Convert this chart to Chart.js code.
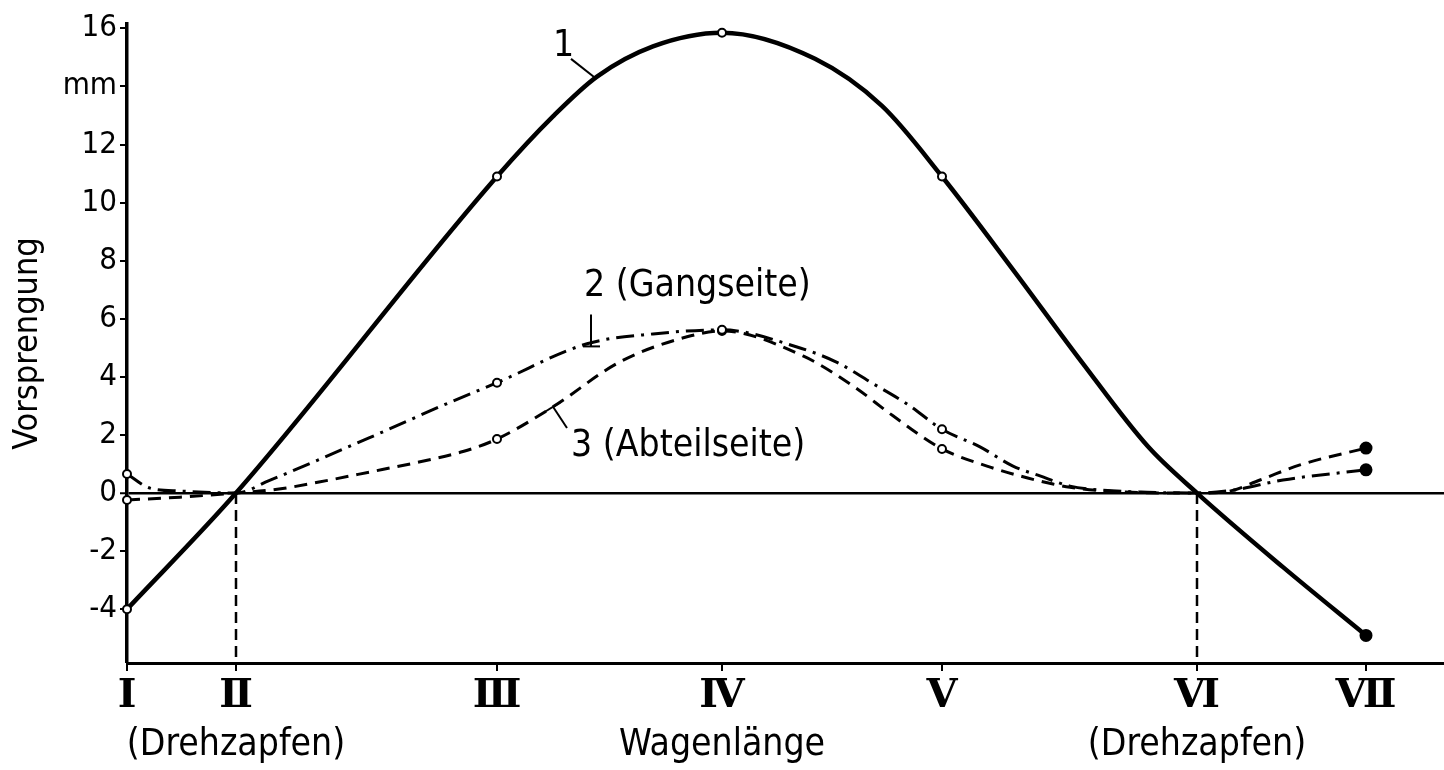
<!DOCTYPE html>
<html>
<head>
<meta charset="utf-8">
<script src="https://cdn.jsdelivr.net/npm/chart.js@4/dist/chart.umd.min.js"></script>
<style>
  html, body { margin: 0; padding: 0; background: #fff; overflow: hidden; }
  #wrap { width: 1444px; height: 770px; position: relative; }
</style>
</head>
<body>
<div id="wrap"><canvas id="chart"></canvas></div>
<script>
// stations along the coach (x in drawing units from station I)
const stationLabels = ['Ⅰ', 'Ⅱ', 'Ⅲ', 'Ⅳ', 'Ⅴ', 'Ⅵ', 'Ⅶ'];
const stationPos = [0, 109, 370, 595, 815, 1070, 1239];
const pivotStations = [1, 5]; // Drehzapfen

// measured values at the stations (mm)
const curve1 = [-4.0, 0, 10.9, 15.85, 10.9, 0, -4.9];
const curve2 = [0.66, 0, 3.8, 5.62, 2.2, 0, 0.8];
const curve3 = [-0.24, 0, 1.86, 5.58, 1.52, 0, 1.55];

const trace1 = [[426, 12.97], [470, 14.34], [526, 15.38], [688, 14.95], [755, 13.33],
                [888, 7.6], [955, 4.5], [1021, 1.6], [1156, -2.55]];
const trace2 = [[23, 0.17], [53, 0.07], [142, 0.43], [242, 1.9], [326, 3.17],
                [460, 5.14], [526, 5.48], [670, 5.03], [710, 4.5], [743, 3.83], [780, 3.07],
                [853, 1.59], [886, 0.93], [913, 0.59], [943, 0.24], [976, 0.1], [1020, 0.03],
                [1106, 0.1], [1156, 0.45]];
const trace3 = [[53, -0.14], [152, 0.14], [192, 0.38], [242, 0.72], [292, 1.07], [336, 1.43],
                [426, 2.97], [493, 4.52], [560, 5.38], [676, 4.72], [726, 3.69], [766, 2.66],
                [860, 0.93], [893, 0.59], [926, 0.31], [943, 0.2], [990, 0.05],
                [1100, 0.05], [1133, 0.45], [1173, 0.97]];

const yTicks = [-4, -2, 0, 2, 4, 6, 8, 10, 12, 14, 16];
const yUnitTick = 14; // shown as "mm"
const xMax = 1317;
const yMin = -5.85;
const yMax = 16.15;

const FONT = "'DejaVu Sans Condensed', 'Liberation Sans Narrow', 'DejaVu Sans', sans-serif";
const stationMarks = ['open', null, 'open', 'open', 'open', null, 'filled'];

const buildSeries = (values, trace) => {
    const pts = values.map((v, i) => ({ x: stationPos[i], y: v, mark: stationMarks[i] }));
    trace.forEach(([x, y]) => pts.push({ x, y, mark: null }));
    return pts.sort((a, b) => a.x - b.x);
};

const markRadius = ctx => {
    const m = ctx.raw && ctx.raw.mark;
    return m === 'filled' ? 5.5 : m === 'open' ? 4 : 0;
};
const markFill = ctx => (ctx.raw && ctx.raw.mark === 'filled') ? '#000' : '#fff';

const curveStyle = (dash, width) => ({
    borderColor: '#000',
    borderWidth: width,
    borderDash: dash,
    pointRadius: markRadius,
    pointBackgroundColor: markFill,
    pointBorderColor: '#000',
    pointBorderWidth: 2,
    cubicInterpolationMode: 'monotone',
    fill: false,
    clip: false,
});

const pivotLines = pivotStations.map(i => ({
    data: [{ x: stationPos[i], y: 0 }, { x: stationPos[i], y: yMin }],
    borderColor: '#000',
    borderWidth: 2.5,
    borderDash: [11, 6],
    pointRadius: 0,
    tension: 0,
}));

// labels written on the drawing, positioned in data units
const notes = [
    { text: '1', x: 426, y: 15.05, leader: [[444, 14.95], [468, 14.3]] },
    { text: '2 (Gangseite)', x: 457, y: 6.8, leader: [[464, 6.15], [464, 5.05]], foot: [[456, 5.05], [473, 5.05]] },
    { text: '3 (Abteilseite)', x: 444, y: 1.28, leader: [[440, 2.24], [426, 2.97]], foot: [[418, 2.8], [434, 3.14]] },
];

const drawingText = {
    id: 'drawingText',
    afterDatasetsDraw(chart) {
        const { ctx, scales: { x, y }, chartArea } = chart;
        ctx.save();
        ctx.fillStyle = '#000';
        ctx.strokeStyle = '#000';
        ctx.lineWidth = 2;
        ctx.font = `37px ${FONT}`;
        ctx.textBaseline = 'alphabetic';
        ctx.textAlign = 'left';
        notes.forEach(n => {
            ctx.fillText(n.text, x.getPixelForValue(n.x), y.getPixelForValue(n.y));
            [n.leader, n.foot].forEach(seg => {
                if (!seg) return;
                ctx.beginPath();
                ctx.moveTo(x.getPixelForValue(seg[0][0]), y.getPixelForValue(seg[0][1]));
                ctx.lineTo(x.getPixelForValue(seg[1][0]), y.getPixelForValue(seg[1][1]));
                ctx.stroke();
            });
        });
        // text under the axis
        ctx.textAlign = 'center';
        const baseY = chartArea.bottom + 92;
        pivotStations.forEach(i => {
            ctx.fillText('(Drehzapfen)', x.getPixelForValue(stationPos[i]), baseY);
        });
        ctx.fillText('Wagenlänge', x.getPixelForValue(stationPos[3]), baseY);
        ctx.restore();
    }
};

new Chart(document.getElementById('chart'), {
    type: 'line',
    data: {
        datasets: [
            { label: '1', data: buildSeries(curve1, trace1), ...curveStyle([], 4.5) },
            { label: '2 (Gangseite)', data: buildSeries(curve2, trace2), ...curveStyle([18, 7, 3, 7], 3) },
            { label: '3 (Abteilseite)', data: buildSeries(curve3, trace3), ...curveStyle([13, 8], 3) },
            ...pivotLines,
        ]
    },
    options: {
        responsive: true,
        maintainAspectRatio: false,
        animation: false,
        devicePixelRatio: 1,
        layout: { autoPadding: false, padding: { top: 24, right: 0, left: 0, bottom: 0 } },
        plugins: {
            legend: { display: false },
            tooltip: { enabled: false },
        },
        scales: {
            x: {
                type: 'linear',
                min: 0,
                max: xMax,
                afterFit: s => { s.height = 107; s.paddingRight = 0; s.paddingLeft = 0; },
                afterBuildTicks: s => { s.ticks = stationPos.map(v => ({ value: v })); },
                border: { color: '#000', width: 3 },
                grid: { drawOnChartArea: false, color: '#000', tickLength: 8, lineWidth: 2 },
                ticks: {
                    autoSkip: false,
                    maxRotation: 0,
                    padding: 2,
                    color: '#000',
                    font: { family: "'DejaVu Serif', 'Liberation Serif', serif", size: 40, weight: 'bold' },
                    callback: (v) => stationLabels[stationPos.indexOf(v)],
                },
            },
            y: {
                min: yMin,
                max: yMax,
                afterFit: s => { s.width = 127; },
                afterBuildTicks: s => { s.ticks = yTicks.map(v => ({ value: v })); },
                border: { color: '#000', width: 3.5 },
                grid: {
                    color: c => (c.tick && c.tick.value === 0) ? '#000' : 'rgba(0,0,0,0)',
                    lineWidth: c => (c.tick && c.tick.value === 0) ? 2.5 : 0,
                    tickColor: '#000',
                    tickWidth: 2,
                    tickLength: 7,
                },
                ticks: {
                    padding: 3,
                    color: '#000',
                    font: { family: FONT, size: 31 },
                    callback: v => v === yUnitTick ? 'mm' : String(v),
                },
                title: {
                    display: true,
                    text: 'Vorsprengung',
                    color: '#000',
                    font: { family: FONT, size: 34 },
                    padding: { top: 8, bottom: 0 },
                },
            },
        },
    },
    plugins: [drawingText],
});
</script>
</body>
</html>
